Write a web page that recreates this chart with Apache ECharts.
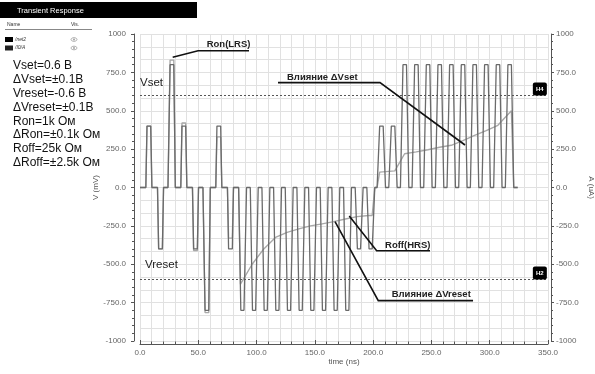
<!DOCTYPE html>
<html><head><meta charset="utf-8">
<script src="https://cdn.jsdelivr.net/npm/echarts@6/dist/echarts.min.js"></script>
<style>html,body{margin:0;padding:0;background:#fff}#c{width:595px;height:374px}</style>
</head><body><div id="c"></div>
<script>
// ---- data ----
// Voltage /net2 (mV) : [time ns, value]
const voltagePts = [
 [0,0],
 [5,0],[6,400],[9.2,400],[10.2,0],
 [15,0],[16,-400],[19.2,-400],[20.2,0],
 [24,0],[25.8,800],[29,800],[30.3,0],
 [35,0],[36,400],[39.2,400],[40.2,0],
 [45,0],[46,-400],[49.2,-400],[50.2,0],
 [54,0],[55.8,-800],[59,-800],[60.3,0],
 [65,0],[66,400],[69.2,400],[70.2,0],
 [75,0],[76,-400],[79.2,-400],[80.2,0],
 [84.6,0],[86.5,-800],[89.2,-800],[91.4,0],
 [94.6,0],[96.5,-800],[99.2,-800],[101.4,0],
 [104.6,0],[106.5,-800],[109.2,-800],[111.4,0],
 [114.6,0],[116.5,-800],[119.2,-800],[121.4,0],
 [124.6,0],[126.5,-800],[129.2,-800],[131.4,0],
 [134.6,0],[136.5,-800],[139.2,-800],[141.4,0],
 [144.6,0],[146.5,-800],[149.2,-800],[151.4,0],
 [154.6,0],[156.5,-800],[159.2,-800],[161.4,0],
 [164.6,0],[166.5,-800],[169.2,-800],[171.4,0],
 [174.6,0],[176.5,-800],[179.2,-800],[181.4,0],
 [184.6,0],[186.5,-400],[189.2,-400],[191.4,0],
 [194.6,0],[196.5,-400],[199.2,-400],[201.4,0],
 [203.4,0],[205.6,400],[208.6,400],[210.6,0],
 [213.4,0],[215.6,400],[218.6,400],[220.6,0],
 [223.4,0],[225.6,800],[228.6,800],[230.6,0],
 [233.4,0],[235.6,800],[238.6,800],[240.6,0],
 [243.4,0],[245.6,800],[248.6,800],[250.6,0],
 [253.4,0],[255.6,800],[258.6,800],[260.6,0],
 [263.4,0],[265.6,800],[268.6,800],[270.6,0],
 [273.4,0],[275.6,800],[278.6,800],[280.6,0],
 [283.4,0],[285.6,800],[288.6,800],[290.6,0],
 [293.4,0],[295.6,800],[298.6,800],[300.6,0],
 [303.4,0],[305.6,800],[308.6,800],[310.6,0],
 [313.4,0],[315.6,800],[318.6,800],[320.6,0],
 [324,0]
];
// Current /I0/A (uA) : [time ns, value]
const currentPts = [
 [0,0],
 [5,0],[6,400],[9.2,400],[10.2,0],
 [15,0],[16,-400],[19.2,-400],[20.2,0],
 [24,0],[25.8,830],[29,830],[30.3,0],
 [35,0],[36,420],[39.2,420],[40.2,0],
 [45,0],[46,-410],[49.2,-410],[50.2,0],
 [54,0],[55.8,-815],[59,-815],[60.3,0],
 [65,0],[66,330],[69.2,330],[70.2,0],
 [75,0],[76,-330],[79.2,-330],[80.2,0],
 [84.6,0],[86.2,-630],[96.2,-500],[106.2,-400],[116.2,-325],[126.2,-292],
 [136.2,-270],[146.2,-250],[156.2,-237],[166.2,-222],[176.2,-205],
 [186.2,-190],[196.2,-182],[199.2,-182],[201.4,0],
 [203.4,0],[205.6,100],[218.6,108],[227,220],[237,232],[247,246],[257,262],
 [267,275],[277,306],[287,339],[297,371],[307,405],[318.6,500],[320.6,0],
 [324,0]
];
const thresholds = [600, -600];           // H4 / H2 dashed markers
const markerNames = ['H4', 'H2'];
const paramLines = ['Vset=0.6 В','ΔVset=±0.1В','Vreset=-0.6 В','ΔVreset=±0.1В',
                    'Ron=1k Ом','ΔRon=±0.1k Ом','Roff=25k Ом','ΔRoff=±2.5k Ом'];
const notes = [
 {text:'Ron(LRS)',        at:[57.2, 933],  line:[[93.5,891],[49.8,891],[28.05,848]]},
 {text:'Влияние ΔVset',   at:[126.1,718],  line:[[118.4,683],[205.9,683],[278.8,277]]},
 {text:'Roff(HRS)',       at:[210.2,-375], line:[[248.8,-412],[203,-412],[179.5,-186]]},
 {text:'Влияние ΔVreset', at:[215.9,-694], line:[[285.7,-737],[204.4,-737],[167.3,-223]]}
];
const plotLabels = [{text:'Vset', at:[0,679]}, {text:'Vreset', at:[4.3,-505]}];

// ---- chart ----
const FF = "'Liberation Sans', Arial, sans-serif";
const chart = echarts.init(document.getElementById('c'), null, {renderer:'canvas'});
const gridCol = '#e1e1e1';
function yAxisCfg(pos, off, name, gap, rot, margin){
  return {
    type:'value', position:pos, min:-1000, max:1000, interval:250, offset:off,
    axisLine:{show:true, onZero:false, lineStyle:{color:'#555', width:1}},
    axisTick:{show:true, inside:false, length:3, lineStyle:{color:'#555'}},
    minorTick:{show:true, splitNumber:5, length:2, lineStyle:{color:'#555'}},
    axisLabel:{color:'#666', fontSize:8, fontFamily:FF, margin:margin,
      formatter: v => Math.abs(v) === 1000 ? String(v) : v.toFixed(1)},
    splitLine:{show:false}, minorSplitLine:{show:false},
    name:name, nameLocation:'middle', nameGap:gap, nameRotate:rot, nameMoveOverlap:false,
    nameTextStyle:{color:'#555', fontSize:8, fontFamily:FF}
  };
}
// helper axis that only draws the horizontal grid (3 divisions per 250)
const gridAxis = {
  type:'value', position:'left', min:-1000, max:1000, interval:250,
  axisLine:{show:false}, axisTick:{show:false}, axisLabel:{show:false},
  minorTick:{show:false, splitNumber:3},
  splitLine:{show:true, lineStyle:{color:gridCol, width:1}},
  minorSplitLine:{show:true, lineStyle:{color:gridCol, width:1}}
};
chart.setOption({
  animation:false,
  backgroundColor:'#fff',
  grid:{left:140, right:47, top:34, bottom:33, containLabel:false, outerBoundsMode:'none'},
  xAxis:{
    type:'value', min:0, max:350, interval:50, offset:3,
    axisLine:{show:true, onZero:false, lineStyle:{color:'#555', width:1}},
    axisTick:{show:true, inside:true, length:4, lineStyle:{color:'#555'}},
    minorTick:{show:true, splitNumber:5, length:2.5, lineStyle:{color:'#555'}},
    axisLabel:{color:'#666', fontSize:8, fontFamily:FF, margin:5, formatter: v => v.toFixed(1)},
    splitLine:{show:true, lineStyle:{color:gridCol, width:1}},
    minorSplitLine:{show:true, lineStyle:{color:gridCol, width:1}},
    name:'time (ns)', nameLocation:'middle', nameGap:14, nameMoveOverlap:false,
    nameTextStyle:{color:'#555', fontSize:8, fontFamily:FF}
  },
  yAxis:[ yAxisCfg('left', 6, 'V (mV)', 34, 90, 8), yAxisCfg('right', 3, 'A (uA)', 36, -90, 5), gridAxis ],
  series:[
    {type:'line', name:'/I0/A', yAxisIndex:1, data:currentPts, showSymbol:false, symbol:'none',
     lineStyle:{color:'#a8a8a8', width:1.4}, z:2},
    {type:'line', name:'/net2', yAxisIndex:0, data:voltagePts, showSymbol:false, symbol:'none',
     lineStyle:{color:'#6a6a6a', width:1.3}, z:3,
     markLine:{silent:true, symbol:'none', label:{show:false},
       lineStyle:{color:'#555', type:[2,2], width:1},
       data: thresholds.map(v => ({yAxis:v}))}}
  ]
});

function txt(x, y, text, font, fill, align, valign){
  return {type:'text', silent:true, z:100, style:{x:x, y:y, text:text, font:font, fill:fill,
    align:align||'left', textAlign:align||'left',
    verticalAlign:valign||'middle', textVerticalAlign:valign||'middle'}};
}
const px = p => chart.convertToPixel({xAxisIndex:0, yAxisIndex:0}, p);
const g = [];
// title bar + legend
g.push({type:'rect', silent:true, shape:{x:0, y:2, width:197, height:16}, style:{fill:'#000'}});
g.push(txt(17, 11, 'Transient Response', "7.5px " + FF, '#fff'));
g.push(txt(7, 25, 'Name', "5px " + FF, '#333'));
g.push(txt(71, 25, 'Vis.', "5px " + FF, '#333'));
g.push({type:'line', silent:true, shape:{x1:5, y1:29.5, x2:92, y2:29.5}, style:{stroke:'#888', lineWidth:1}});
[['/net2', 39.5, '#000'], ['/I0/A', 48, '#222']].forEach(r => {
  g.push({type:'rect', silent:true, shape:{x:5, y:r[1]-2.5, width:8, height:5}, style:{fill:r[2]}});
  g.push(txt(15, r[1], r[0], "italic 5px " + FF, '#333'));
  g.push({type:'ellipse', silent:true, shape:{cx:74, cy:r[1], rx:3, ry:1.8}, style:{fill:'none', stroke:'#999', lineWidth:0.8}});
  g.push({type:'circle', silent:true, shape:{cx:74, cy:r[1], r:0.9}, style:{fill:'#999'}});
});
// parameter block
paramLines.forEach((s, i) => g.push(txt(13, 66 + i*13.8, s, "12px " + FF, '#111')));
// in-plot labels
plotLabels.forEach(l => { const p = px(l.at); g.push(txt(p[0], p[1], l.text, "11.5px " + FF, '#222')); });
// annotations with leader lines
notes.forEach(n => {
  const p = px(n.at);
  g.push(txt(p[0], p[1], n.text, "bold 9.5px " + FF, '#222'));
  g.push({type:'polyline', silent:true, z:99, shape:{points:n.line.map(px)},
          style:{stroke:'#111', lineWidth:1.6, fill:null}});
});
// H4 / H2 markers
thresholds.forEach((v, i) => {
  const p = px([343, v]);
  g.push({type:'rect', silent:true, z:100, shape:{x:p[0]-7, y:p[1]-13, width:14, height:13, r:2}, style:{fill:'#000'}});
  g.push(txt(p[0], p[1]-6.5, markerNames[i], "bold 6px " + FF, '#fff', 'center'));
});
chart.setOption({graphic:{elements:g}});
</script></body></html>
